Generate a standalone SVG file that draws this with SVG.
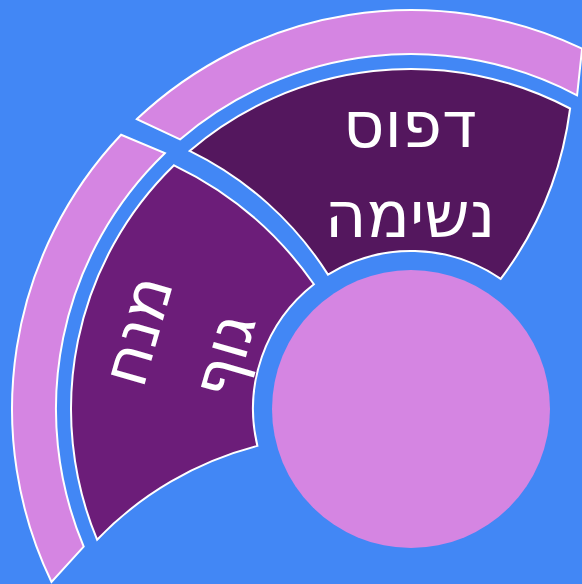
<svg xmlns="http://www.w3.org/2000/svg" width="582" height="584" viewBox="0 0 582 584">
<style>
.seg{stroke:#ffffff;stroke-width:2;stroke-linejoin:miter}
.ring{fill:#d585e2}
.lbl{fill:#ffffff;font-family:"DejaVu Sans","Noto Sans",sans-serif;font-size:64px;text-anchor:middle;direction:rtl}
</style>
<rect width="582" height="584" fill="#4287f5"/>
<g id="connectors"></g>
<g id="ring-top"><path class="seg ring" d="M582.1,48.6 A399,399 0 0,0 136.9,119.1 L180.0,139.4 A355,355 0 0,1 577.1,95.3 Z"/></g>
<g id="ring-left"><path class="seg ring" d="M121.1,134.8 A399,399 0 0,0 51.5,582.0 L83.7,546.6 A355,355 0 0,1 164.8,153.2 Z"/></g>
<g id="breathing">
<path class="seg" fill="#54175e" d="M570.1,108.5 A340,340 0 0,0 189.6,150.9 A340,340 0 0,1 328.0,274.6 A158,158 0 0,1 500.7,278.9 A360,360 0 0,0 570.1,108.5 Z"/>
<g transform="translate(410,172)"><text class="lbl" x="0" y="-25">דפוס</text><text class="lbl" x="0" y="65">נשימה</text></g>
</g>
<g id="posture">
<path class="seg" fill="#6c1d79" d="M174.0,165.3 A340,340 0 0,0 97.1,539.7 A340,340 0 0,1 257.4,445.9 A158,158 0 0,1 313.9,284.3 A360,360 0 0,0 174.0,165.3 Z"/>
<g transform="translate(182.2,343.4) rotate(-74)"><text class="lbl" x="0" y="-25">מנח</text><text class="lbl" x="0" y="65">גוף</text></g>
</g>
<g id="center"><circle cx="411" cy="409" r="139" fill="#d585e2"/></g>
</svg>
